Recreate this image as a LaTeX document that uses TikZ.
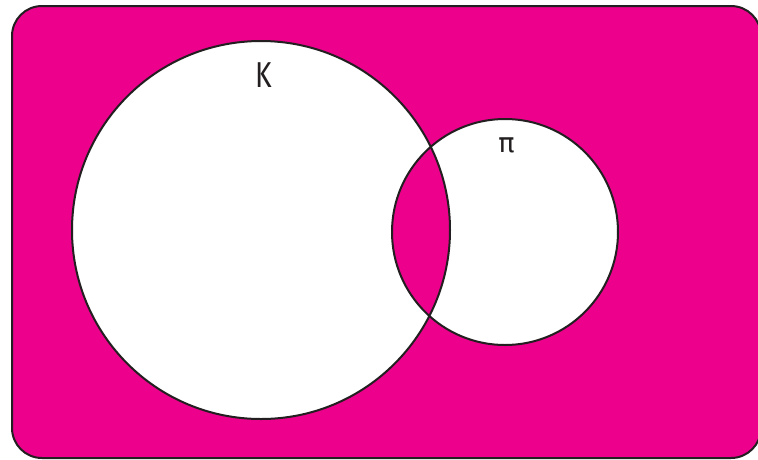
\documentclass[tikz,border=0pt]{standalone}
\usepackage{fontspec}
\setmainfont{Fira Sans}
\newfontfamily\symfont{DejaVu Sans}
\definecolor{mag}{HTML}{EC008C}
\definecolor{edge}{HTML}{231F20}
\begin{document}
\begin{tikzpicture}[x=1pt,y=-1pt,
  outline/.style={draw=edge,line width=2pt},
  lbl/.style={inner sep=0pt}]
\useasboundingbox (0,0) rectangle (758,459);
\node[outline,fill=mag,rounded corners=30pt,minimum width=749pt,minimum height=452pt,anchor=north west,inner sep=0pt] (U) at (11,5) {};
\node[circle,fill=white,minimum size=378pt,inner sep=0pt] (K) at (261,230) {};
\node[circle,fill=white,minimum size=226pt,inner sep=0pt] (P) at (505,232) {};
\begin{scope}
  \clip (261,230) circle[radius=189];
  \fill[mag] (505,232) circle[radius=113];
\end{scope}
\draw[outline] (261,230) circle[radius=189];
\draw[outline] (505,232) circle[radius=113];
\node[lbl,font=\fontsize{36}{40}\selectfont,text=edge] (lk) at (264,75) {\scalebox{0.78}[1]{K}};
\node[lbl,font=\symfont\fontsize{27}{30}\selectfont,text=edge] (lp) at (506.5,145.5) {π};
\end{tikzpicture}
\end{document}
